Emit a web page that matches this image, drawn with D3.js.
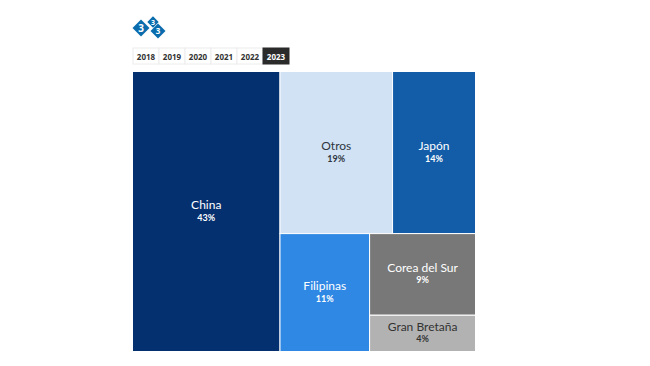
<!DOCTYPE html>
<html>
<head>
<meta charset="utf-8">
<script src="https://cdn.jsdelivr.net/npm/d3@7"></script>
<style>
  html, body { margin: 0; padding: 0; background: #fff; }
  svg { display: block; font-family: "Noto Sans", sans-serif; }
</style>
</head>
<body>
<svg id="chart"></svg>
<script>
const years = ['2018', '2019', '2020', '2021', '2022', '2023'];
const activeYear = '2023';

const countries = ['China', 'Otros', 'Japón', 'Filipinas', 'Corea del Sur', 'Gran Bretaña'];
const shares = [43, 19, 14, 11, 9, 4];
const fills = ['#05306f', '#d0e2f4', '#135ca8', '#2f88e4', '#787878', '#b2b2b2'];
const textFills = ['#fff', '#2f3640', '#fff', '#fff', '#fff', '#333'];

const width = 650;
const height = 366;
const box = { x0: 132.5, y0: 71.5, x1: 475.5, y1: 351.5 };

const svg = d3.select('#chart').attr('width', width).attr('height', height);

// logo
const logo = svg.append('g');
[[141, 28, 6, 10], [153, 22, 4, 7], [158, 31, 5.3, 8]].forEach(([cx, cy, r, fs]) => {
  logo.append('rect')
    .attr('x', cx - r).attr('y', cy - r)
    .attr('width', r * 2).attr('height', r * 2)
    .attr('transform', `rotate(45 ${cx} ${cy})`)
    .attr('fill', '#0a6cad');
  logo.append('text')
    .attr('x', cx).attr('y', cy + fs * 0.36)
    .attr('text-anchor', 'middle')
    .attr('font-size', fs)
    .attr('font-weight', 700)
    .attr('fill', '#fff')
    .text('3');
});

// year buttons
const xYear = d3.scaleBand().domain(years).range([133, 289]);
const buttons = svg.append('g').selectAll('g')
  .data(years)
  .enter()
  .append('g')
  .attr('transform', (d) => `translate(${xYear(d)},48)`);

buttons.append('rect')
  .attr('width', xYear.bandwidth())
  .attr('height', 16)
  .attr('fill', (d) => (d === activeYear ? '#2b2b2b' : '#fff'))
  .attr('stroke', (d) => (d === activeYear ? '#2b2b2b' : '#ececec'))
  .attr('stroke-width', 1);

buttons.append('text')
  .attr('x', xYear.bandwidth() / 2)
  .attr('y', 11.5)
  .attr('text-anchor', 'middle')
  .attr('font-size', 8)
  .attr('font-weight', 700)
  .attr('fill', (d) => (d === activeYear ? '#fff' : '#333'))
  .text((d) => d);

// treemap, nested so the split order is the same as the reference
const leaf = (i) => ({ name: countries[i], value: shares[i], fill: fills[i], text: textFills[i] });
const tree = {
  children: [
    leaf(0),
    {
      children: [
        { children: [leaf(1), leaf(2)] },
        { children: [leaf(3), { children: [leaf(4), leaf(5)] }] },
      ],
    },
  ],
};

const tile = (node, x0, y0, x1, y1) => {
  if (node.depth % 2 === 0) d3.treemapDice(node, x0, y0, x1, y1);
  else d3.treemapSlice(node, x0, y0, x1, y1);
};

const root = d3.hierarchy(tree).sum((d) => d.value || 0);
d3.treemap().size([box.x1 - box.x0, box.y1 - box.y0]).tile(tile)(root);

const cells = svg.append('g')
  .attr('transform', `translate(${box.x0},${box.y0})`)
  .selectAll('g')
  .data(root.leaves())
  .enter()
  .append('g')
  .attr('transform', (d) => `translate(${d.x0},${d.y0})`);

cells.append('rect')
  .attr('width', (d) => d.x1 - d.x0)
  .attr('height', (d) => d.y1 - d.y0)
  .attr('fill', (d) => d.data.fill)
  .attr('stroke', '#fff')
  .attr('stroke-width', 1);

cells.append('text')
  .attr('x', (d) => (d.x1 - d.x0) / 2)
  .attr('y', (d) => (d.y1 - d.y0) / 2 - 2.5)
  .attr('text-anchor', 'middle')
  .attr('font-family', 'Lato, sans-serif')
  .attr('font-size', 12)
  .attr('fill', (d) => d.data.text)
  .text((d) => d.data.name);

cells.append('text')
  .attr('x', (d) => (d.x1 - d.x0) / 2)
  .attr('y', (d) => (d.y1 - d.y0) / 2 + 9)
  .attr('text-anchor', 'middle')
  .attr('font-family', 'Lato, sans-serif')
  .attr('font-size', 9)
  .attr('font-weight', 700)
  .attr('fill', (d) => d.data.text)
  .text((d) => `${d.data.value}%`);
</script>
</body>
</html>
